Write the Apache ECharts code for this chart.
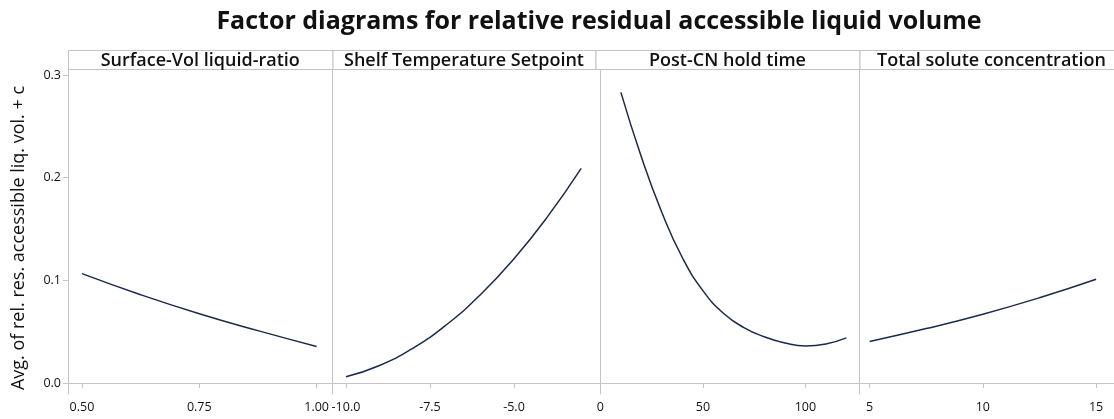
<!DOCTYPE html>
<html>
<head>
<meta charset="utf-8">
<script src="https://cdn.jsdelivr.net/npm/echarts@6/dist/echarts.min.js"></script>
<style>
html,body{margin:0;padding:0;background:#fff;}
#chart{width:1114px;height:419px;}
</style>
</head>
<body>
<div id="chart"></div>
<script>
// ---- data ----
const chartTitle = 'Factor diagrams for relative residual accessible liquid volume';
const yAxisName = 'Avg. of rel. res. accessible liq. vol. + c';
const panelTitles = ['Surface-Vol liquid-ratio', 'Shelf Temperature Setpoint', 'Post-CN hold time', 'Total solute concentration'];

const surfVolX = [0.5, 0.625, 0.75, 0.875, 1.0];
const surfVolY = [0.1065, 0.0860, 0.0675, 0.0510, 0.0356];

const shelfTempX = [-10, -9, -8, -7, -6, -5, -4, -3];
const shelfTempY = [0.006, 0.017, 0.034, 0.057, 0.086, 0.121, 0.162, 0.209];

const holdTimeX = [10, 20, 30, 40, 50, 60, 70, 80, 90, 100, 110, 120];
const holdTimeY = [0.283, 0.220, 0.166, 0.122, 0.090, 0.068, 0.054, 0.045, 0.039, 0.036, 0.038, 0.044];

const soluteX = [5, 7.5, 10, 12.5, 15];
const soluteY = [0.0405, 0.0530, 0.0670, 0.0830, 0.1010];

const yTicks = [0, 0.1, 0.2, 0.3];
const xTicks = [[0.5, 0.75, 1.0], [-10, -7.5, -5], [0, 50, 100], [5, 10, 15]];
const xDecimals = [2, 1, 0, 0];

// ---- layout ----
const panelsX = [surfVolX, shelfTempX, holdTimeX, soluteX];
const panelsY = [surfVolY, shelfTempY, holdTimeY, soluteY];
const gridLeft = [68, 332.5, 595.5, 859.5];
const gridWidth = [264.5, 263, 264, 264];
const xRange = [[0.4702, 1.0339], [-10.40, -2.574], [-2.39, 126.4], [4.553, 15.79]];
const plotTop = 69, plotHeight = 325, headerTop = 50;
const frameColor = '#c4c4c4';
const lineColor = '#1b2a4a';
const fontFam = '"Open Sans", "Noto Sans", sans-serif';

const grids = [], xAxes = [], yAxes = [], series = [], graphics = [];
for (let i = 0; i < 4; i++) {
  grids.push({left: gridLeft[i], width: gridWidth[i], top: plotTop, height: plotHeight, containLabel: false});
  const dec = xDecimals[i];
  xAxes.push({
    type: 'value', gridIndex: i, min: xRange[i][0], max: xRange[i][1],
    axisLine: {show: true, lineStyle: {color: frameColor, width: 1}},
    axisTick: {show: true, length: 5, lineStyle: {color: frameColor}, customValues: xTicks[i]},
    axisLabel: {customValues: xTicks[i], formatter: v => Number(v).toFixed(dec), color: '#111', fontSize: 12.5, fontFamily: fontFam, margin: 7},
    splitLine: {show: false}
  });
  yAxes.push({
    type: 'value', gridIndex: i, min: -0.0107, max: 0.3058,
    axisLine: {show: true, lineStyle: {color: frameColor, width: 1}},
    axisTick: {show: i === 0, length: 5, lineStyle: {color: frameColor}, customValues: yTicks},
    axisLabel: {show: i === 0, customValues: yTicks, formatter: v => Number(v).toFixed(1), color: '#111', fontSize: 12.5, fontFamily: fontFam, margin: 7},
    splitLine: {show: false}
  });
  series.push({
    type: 'line', xAxisIndex: i, yAxisIndex: i,
    data: panelsX[i].map((x, k) => [x, panelsY[i][k]]),
    smooth: true, showSymbol: false,
    lineStyle: {color: lineColor, width: 1.5},
    itemStyle: {color: lineColor}
  });
  graphics.push({
    type: 'rect', z: 10,
    shape: {x: gridLeft[i] + 0.5, y: headerTop + 0.5, width: gridWidth[i], height: plotTop - headerTop},
    style: {fill: '#fff', stroke: frameColor, lineWidth: 1}
  });
  graphics.push({
    type: 'text', z: 11,
    x: gridLeft[i] + gridWidth[i] / 2, y: headerTop + (plotTop - headerTop) / 2 + 1,
    style: {text: panelTitles[i], fontSize: 18, fontWeight: 600, fontFamily: fontFam, fill: '#111', align: 'center', verticalAlign: 'middle'}
  });
}
// y-axis title
graphics.push({
  type: 'text', z: 11, x: 19, y: 238, rotation: Math.PI / 2,
  style: {text: yAxisName, fontSize: 18, fontFamily: fontFam, fill: '#111', align: 'center', verticalAlign: 'middle'}
});

const chart = echarts.init(document.getElementById('chart'));
chart.setOption({
  backgroundColor: '#fff',
  animation: false,
  title: {text: chartTitle, left: 594, textAlign: 'center', top: 4, textStyle: {fontSize: 25, fontWeight: 'bold', color: '#111', fontFamily: fontFam}},
  grid: grids, xAxis: xAxes, yAxis: yAxes, series: series, graphic: graphics
});
</script>
</body>
</html>
